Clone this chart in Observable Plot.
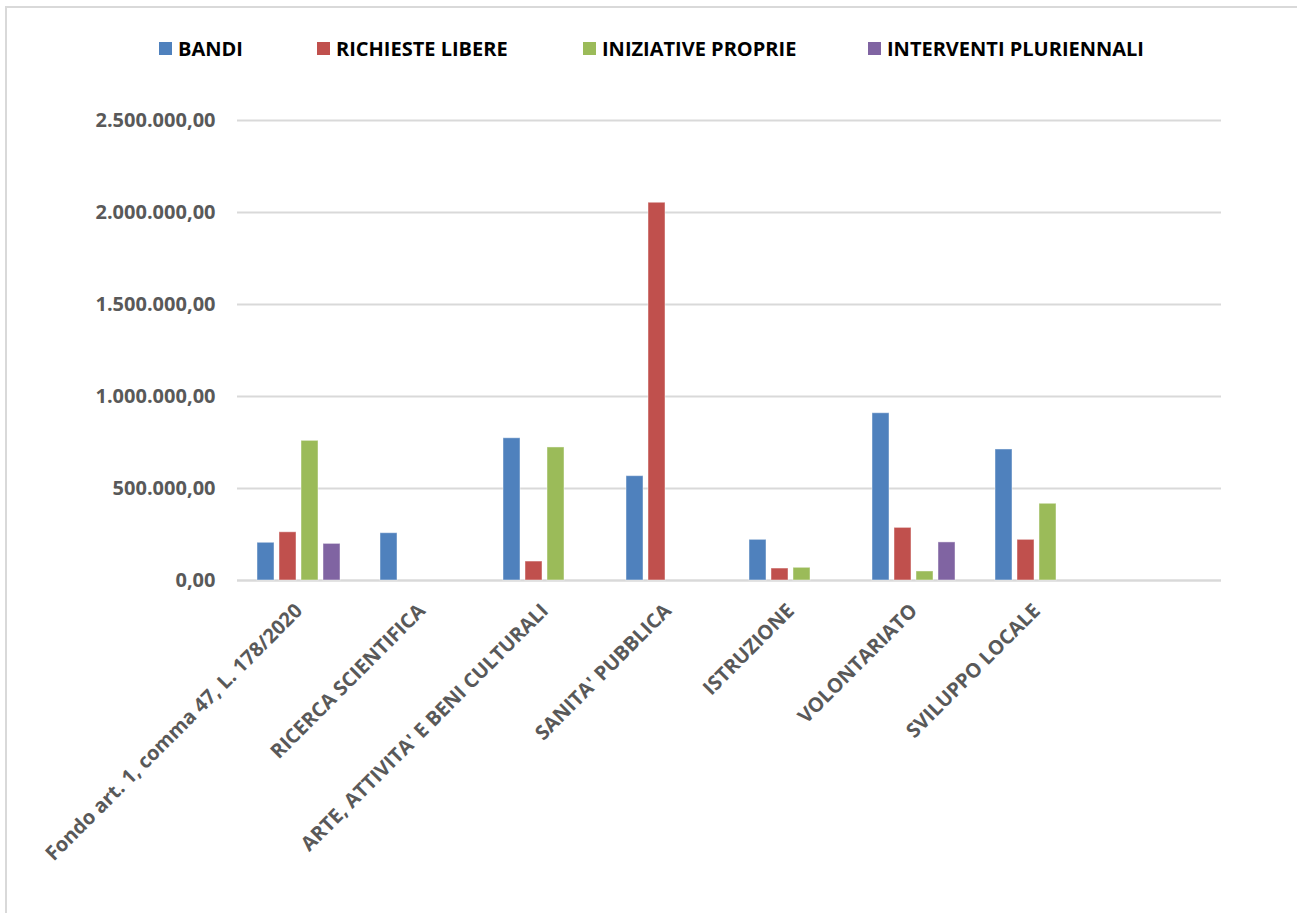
<!DOCTYPE html>
<html>
<head>
<meta charset="utf-8">
<script src="https://cdn.jsdelivr.net/npm/d3@7"></script>
<script src="https://cdn.jsdelivr.net/npm/@observablehq/plot@0.6"></script>
<style>
  html, body { margin: 0; padding: 0; background: #fff; overflow: hidden; width: 1297px; height: 913px; }
  body { position: relative; font-family: "Open Sans", sans-serif; }
  #frame { position: absolute; left: 5px; top: 6px; width: 1400px; height: 1000px; border-top: 2px solid #d9d9d9; border-left: 2px solid #d9d9d9; box-sizing: border-box; }
  #legend { position: relative; height: 100px; width: 1297px; }
  .item { position: absolute; top: 35px; display: flex; align-items: center; font-weight: bold; font-size: 20px; color: #000; white-space: nowrap; }
  .sw { width: 13px; height: 13px; margin-right: 6px; }
  #chart { position: absolute; left: 0; top: 100px; }
</style>
</head>
<body>
<div id="frame"></div>
<div id="legend"></div>
<div id="chart"></div>
<script>
const categories = [
  "Fondo art. 1, comma 47, L. 178/2020",
  "RICERCA SCIENTIFICA",
  "ARTE, ATTIVITA' E BENI CULTURALI",
  "SANITA' PUBBLICA",
  "ISTRUZIONE",
  "VOLONTARIATO",
  "SVILUPPO LOCALE",
  ""
];
const series = ["BANDI", "RICHIESTE LIBERE", "INIZIATIVE PROPRIE", "INTERVENTI PLURIENNALI"];
const colors = ["#4F81BD", "#C0504D", "#9BBB59", "#8064A2"];
const bandi              = [205000, 257000, 773000, 567000, 221000, 909000, 712000, null];
const richiesteLibere    = [262000, null,   103000, 2053000, 65000, 286000, 221000, null];
const iniziativeProprie  = [759000, null,   723000, null,    69000,  49000, 417000, null];
const interventiPluri    = [199000, null,   null,   null,    null,  207000, null,   null];
const yTicks = [0, 500000, 1000000, 1500000, 2000000, 2500000];

const valuesBySeries = [bandi, richiesteLibere, iniziativeProprie, interventiPluri];
const data = [];
categories.forEach((c, i) => {
  series.forEach((s, j) => {
    data.push({category: c, series: s, value: valuesBySeries[j][i]});
  });
});

const it = d3.formatLocale({decimal: ",", thousands: ".", grouping: [3], currency: ["", ""]});
const fmt = it.format(",.2f");

// legend
const legendPos = [159, 317, 583, 868];
const legend = document.getElementById("legend");
series.forEach((s, i) => {
  const el = document.createElement("div");
  el.className = "item";
  el.style.left = legendPos[i] + "px";
  el.innerHTML = `<span class="sw" style="background:${colors[i]}"></span><span>${s}</span>`;
  legend.appendChild(el);
});

const labelFont = {fontSize: 20, fontWeight: "bold", fill: "#595959", fontFamily: '"Open Sans", sans-serif'};

const chart = Plot.plot({
  width: 1297,
  height: 813,
  marginLeft: 235,
  marginRight: 75,
  marginTop: 20,
  marginBottom: 333,
  style: {background: "transparent", overflow: "visible"},
  fx: {domain: categories, padding: 0, label: null},
  x: {domain: series, paddingInner: 0.22, paddingOuter: 0.86, axis: null},
  y: {domain: [0, 2500000], label: null},
  color: {domain: series, range: colors},
  marks: [
    Plot.gridY(yTicks, {stroke: "#d9d9d9", strokeOpacity: 1, strokeWidth: 2}),
    Plot.tickY(categories, {fx: d => d, y: 0, stroke: "#d9d9d9", strokeWidth: 2}),
    Plot.barY(data.filter(d => d.value != null), {fx: "category", x: "series", y: "value", fill: "series", stroke: "#ffffff", strokeOpacity: 0.45, strokeWidth: 1}),
    Plot.axisY(yTicks, {tickFormat: fmt, tickSize: 0, tickPadding: 22, label: null, ...labelFont}),
    Plot.axisFx({anchor: "bottom", tickRotate: -45, tickSize: 0, tickPadding: 27, label: null, ...labelFont})
  ]
});
document.getElementById("chart").appendChild(chart);
</script>
</body>
</html>
